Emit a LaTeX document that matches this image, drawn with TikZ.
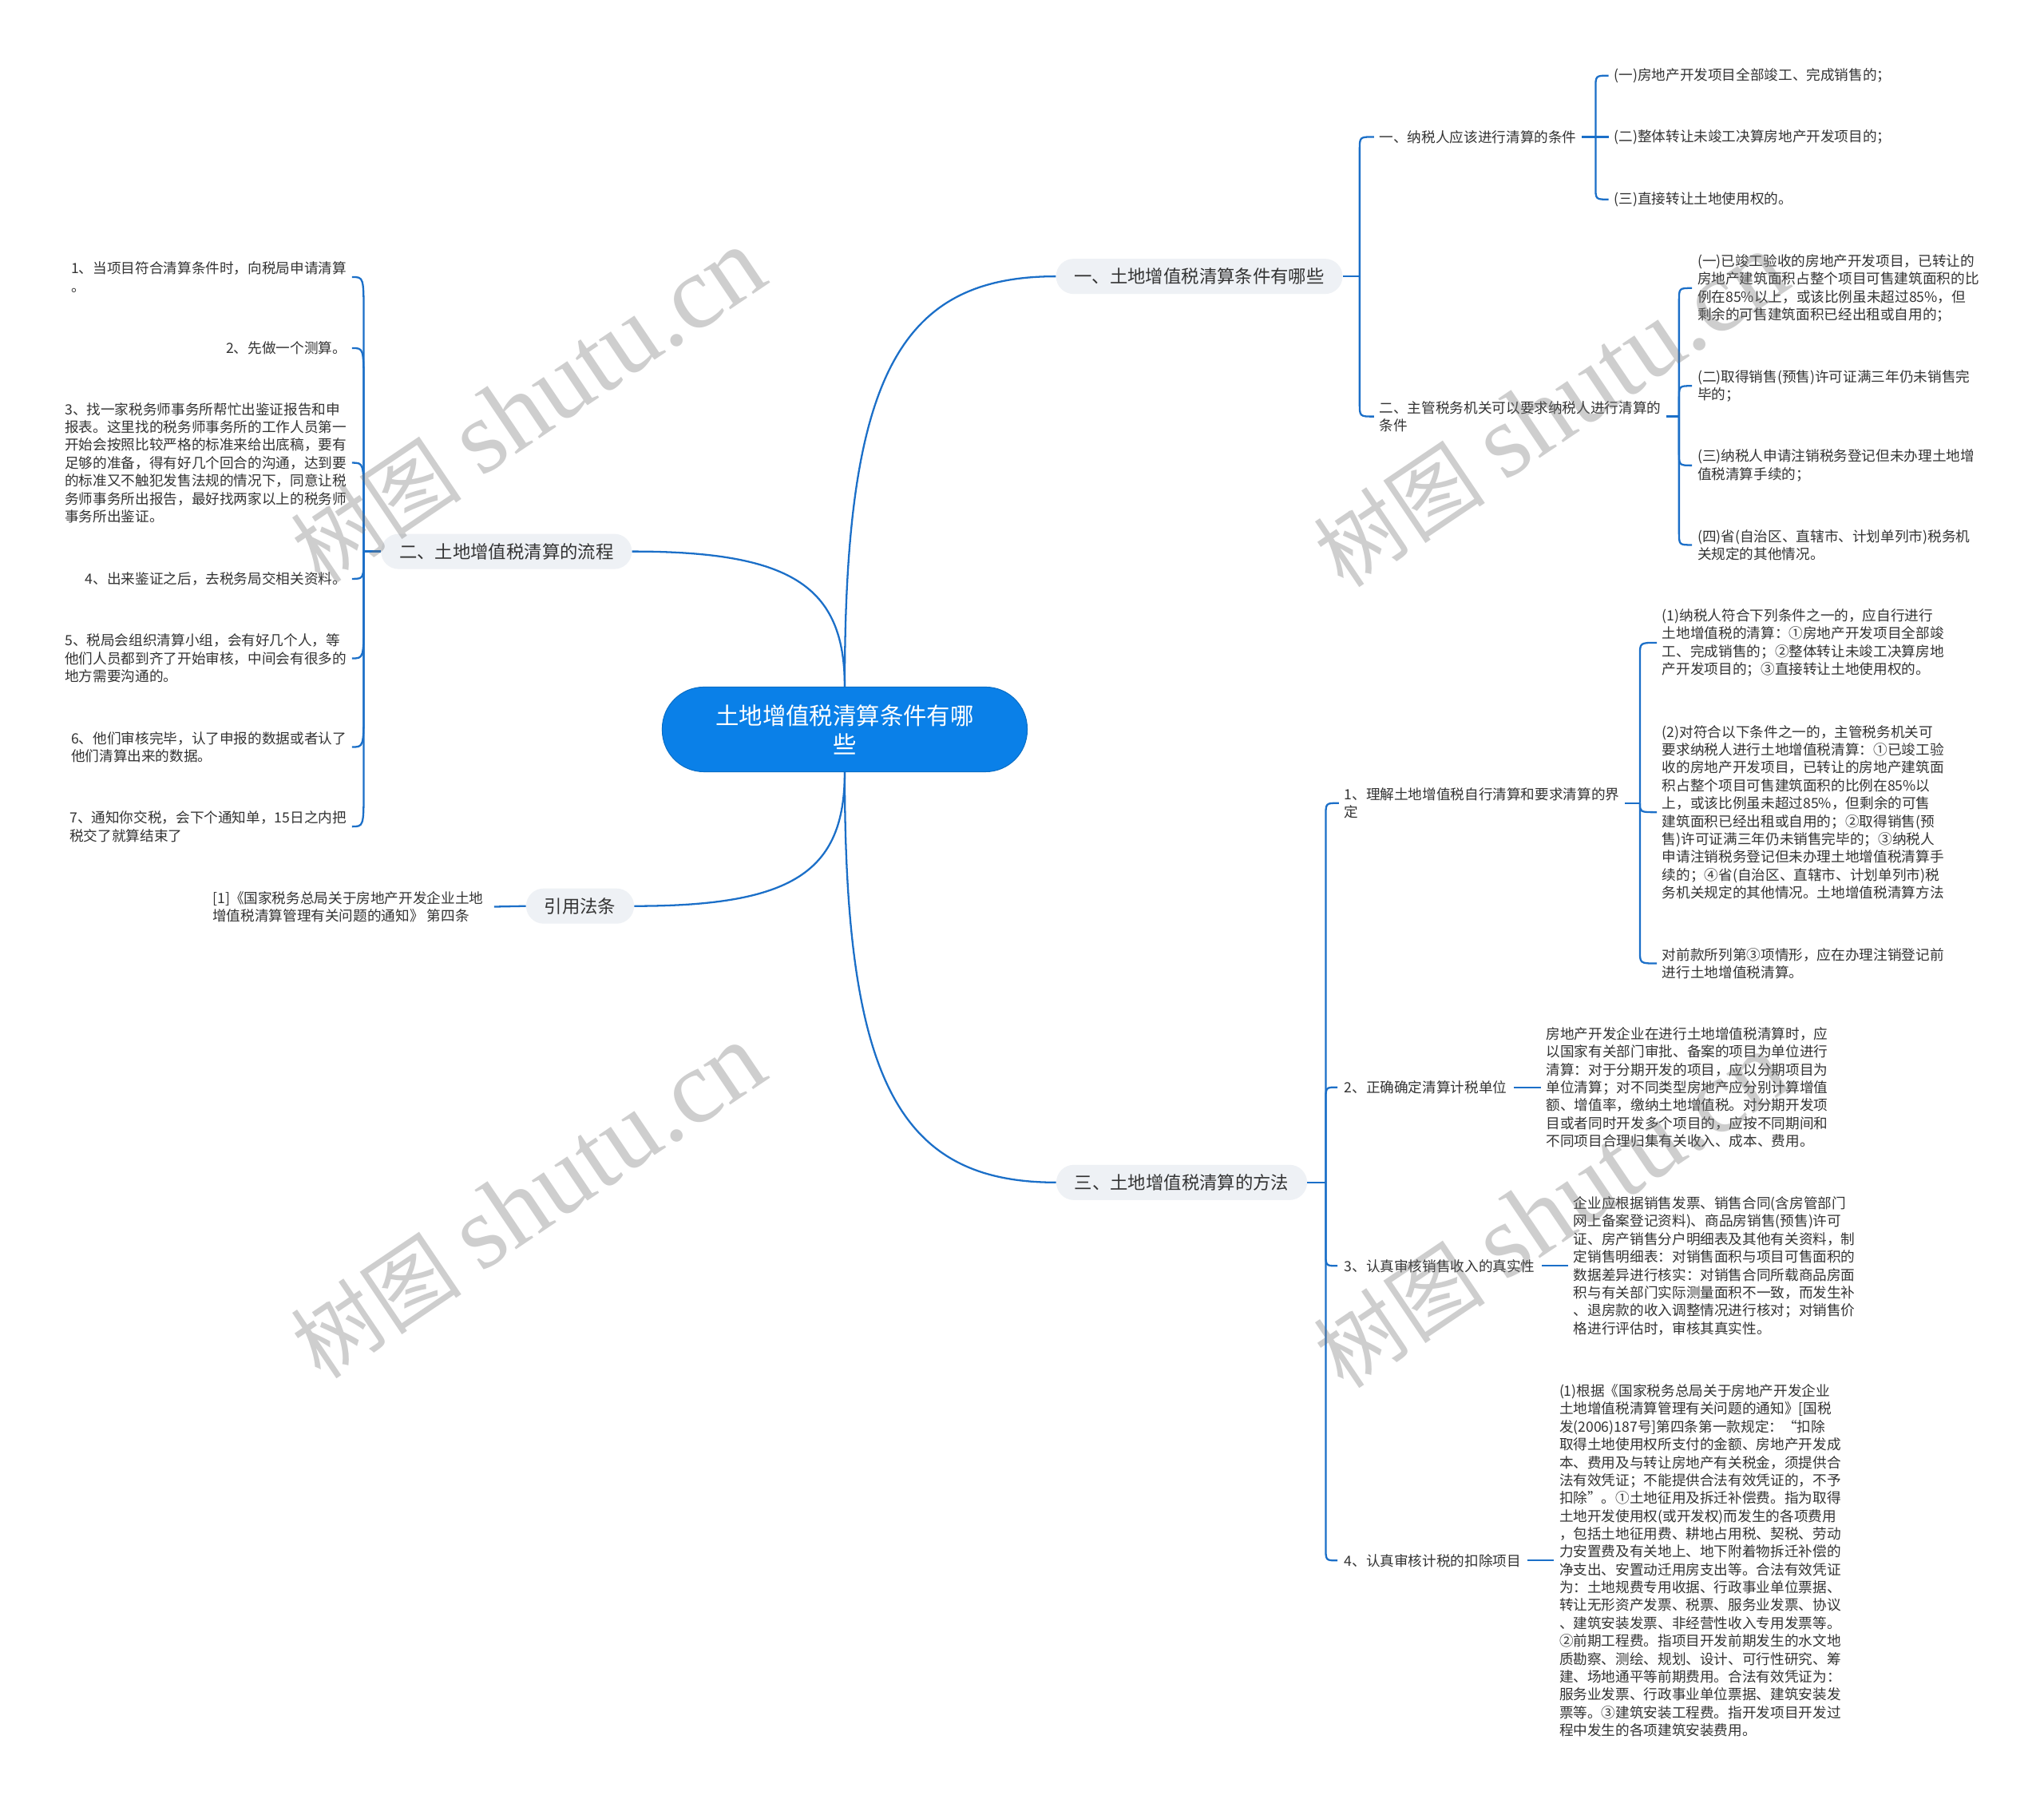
\documentclass[tikz,border=0pt]{standalone}
\usepackage{fontspec}
\setmainfont{Noto Sans CJK SC}
\newfontfamily\wmlat{Liberation Serif}
\newfontfamily\wmcjk{Noto Sans CJK SC}
\usetikzlibrary{calc}
\definecolor{lineblue}{HTML}{1B6FC8}
\definecolor{rootblue}{HTML}{0A80E8}
\definecolor{pillgray}{HTML}{EEF1F5}
\definecolor{txt}{HTML}{333333}
\tikzset{
  conn/.style={draw=lineblue, line width=1.4pt},
  root/.style={fill=rootblue, draw=rootblue!85!black, line width=0.6pt, rounded corners=32pt,
    minimum width=280pt, minimum height=65pt, text=white, align=center,
    font=\fontsize{18}{22}\selectfont},
  pill/.style={fill=pillgray, rounded corners=13.5pt, minimum height=27pt, inner xsep=14pt,
    text=txt, font=\fontsize{13.7}{16}\selectfont},
  leaf/.style={inner xsep=4pt, inner ysep=2pt, text=txt, align=left,
    font=\fontsize{10.8}{13.7}\selectfont},
  wm/.style={text=black!55, opacity=0.35, rotate=34, inner sep=0pt}
}
\newcommand\lnk[3]{\draw[conn] (#1) -- ($(#1 |- #2)+(0,#3)$) .. controls (#1 |- #2) .. (#2);}
\begin{document}
\begin{tikzpicture}[x=1pt, y=-1pt]
\fill[white] (0,0) rectangle (1568,1386);
\useasboundingbox (0,0) rectangle (1568,1386);

% root
\node[root] (root) at (648,559.5) {土地增值税清算条件有哪\\些};

% level 1
\node[pill] (A) at (920,212) {一、土地增值税清算条件有哪些};
\node[pill] (B) at (388.5,423) {二、土地增值税清算的流程};
\node[pill] (R) at (445,695) {引用法条};
\node[pill] (C) at (906.5,907) {三、土地增值税清算的方法};

\draw[conn] (root.north) .. controls +(0,-236) and +(-121,0) .. (A.west);
\draw[conn] (root.north) .. controls +(0,-78) and +(121,0) .. (B.east);
\draw[conn] (root.south) .. controls +(0,77) and +(121,0) .. (R.east);
\draw[conn] (root.south) .. controls +(0,236) and +(-121,0) .. (C.west);

% ---------- branch A ----------
\node[leaf, anchor=west] (a1) at (1054,105) {一、纳税人应该进行清算的条件};
\node[leaf, anchor=west] (a2) at (1054,319.5) {二、主管税务机关可以要求纳税人进行清算的\\条件};
\coordinate (jA) at (1043,212);
\draw[conn] (A.east) -- (jA);
\lnk{jA}{a1.west}{10}
\lnk{jA}{a2.west}{-10}

\node[leaf, anchor=west] (a11) at (1234,58) {(一)房地产开发项目全部竣工、完成销售的；};
\node[leaf, anchor=west] (a12) at (1234,105) {(二)整体转让未竣工决算房地产开发项目的；};
\node[leaf, anchor=west] (a13) at (1234,153) {(三)直接转让土地使用权的。};
\coordinate (ja1) at (1224,105);
\draw[conn] (a1.east) -- (ja1);
\lnk{ja1}{a11.west}{10}
\lnk{ja1}{a12.west}{0}
\lnk{ja1}{a13.west}{-10}

\node[leaf, anchor=west] (a21) at (1298,221) {(一)已竣工验收的房地产开发项目，已转让的\\房地产建筑面积占整个项目可售建筑面积的比\\例在85\%以上，或该比例虽未超过85\%，但\\剩余的可售建筑面积已经出租或自用的；};
\node[leaf, anchor=west] (a22) at (1298,296) {(二)取得销售(预售)许可证满三年仍未销售完\\毕的；};
\node[leaf, anchor=west] (a23) at (1298,357) {(三)纳税人申请注销税务登记但未办理土地增\\值税清算手续的；};
\node[leaf, anchor=west] (a24) at (1298,418) {(四)省(自治区、直辖市、计划单列市)税务机\\关规定的其他情况。};
\coordinate (ja2) at (1288,319.5);
\draw[conn] (a2.east) -- (ja2);
\lnk{ja2}{a21.west}{10}
\lnk{ja2}{a22.west}{10}
\lnk{ja2}{a23.west}{-10}
\lnk{ja2}{a24.west}{-10}

% ---------- branch B ----------
\node[leaf, anchor=east] (b1) at (270,212.5) {1、当项目符合清算条件时，向税局申请清算\\。};
\node[leaf, anchor=east] (b2) at (270,267) {2、先做一个测算。};
\node[leaf, anchor=east] (b3) at (270,355) {3、找一家税务师事务所帮忙出鉴证报告和申\\报表。这里找的税务师事务所的工作人员第一\\开始会按照比较严格的标准来给出底稿，要有\\足够的准备，得有好几个回合的沟通，达到要\\的标准又不触犯发售法规的情况下，同意让税\\务师事务所出报告，最好找两家以上的税务师\\事务所出鉴证。};
\node[leaf, anchor=east] (b4) at (270,444) {4、出来鉴证之后，去税务局交相关资料。};
\node[leaf, anchor=east] (b5) at (270,505) {5、税局会组织清算小组，会有好几个人，等\\他们人员都到齐了开始审核，中间会有很多的\\地方需要沟通的。};
\node[leaf, anchor=east] (b6) at (270,573) {6、他们审核完毕，认了申报的数据或者认了\\他们清算出来的数据。};
\node[leaf, anchor=east] (b7) at (270,634) {7、通知你交税，会下个通知单，15日之内把\\税交了就算结束了};
\coordinate (jB) at (279,423);
\draw[conn] (B.west) -- (jB);
\lnk{jB}{b1.east}{30}
\lnk{jB}{b2.east}{30}
\lnk{jB}{b3.east}{30}
\lnk{jB}{b4.east}{-18}
\lnk{jB}{b5.east}{-30}
\lnk{jB}{b6.east}{-30}
\lnk{jB}{b7.east}{-30}

% ---------- branch R ----------
\node[leaf, anchor=east, inner xsep=8pt] (r1) at (379,695.5) {[1]《国家税务总局关于房地产开发企业土地\\增值税清算管理有关问题的通知》 第四条};
\draw[conn] (R.west) -- (r1.east);

% ---------- branch C ----------
\node[leaf, anchor=west] (c1) at (1027,616) {1、理解土地增值税自行清算和要求清算的界\\定};
\node[leaf, anchor=west, inner xsep=5pt] (c2) at (1026,834) {2、正确确定清算计税单位};
\node[leaf, anchor=west, inner xsep=5pt] (c3) at (1026,971) {3、认真审核销售收入的真实性};
\node[leaf, anchor=west, inner xsep=5pt] (c4) at (1026,1197) {4、认真审核计税的扣除项目};
\coordinate (jC) at (1017,907);
\draw[conn] (C.east) -- (jC);
\lnk{jC}{c1.west}{10}
\lnk{jC}{c2.west}{10}
\lnk{jC}{c3.west}{-10}
\lnk{jC}{c4.west}{-10}

\node[leaf, anchor=west] (c11) at (1271,493) {(1)纳税人符合下列条件之一的，应自行进行\\土地增值税的清算：①房地产开发项目全部竣\\工、完成销售的；②整体转让未竣工决算房地\\产开发项目的；③直接转让土地使用权的。};
\node[leaf, anchor=west] (c12) at (1271,623) {(2)对符合以下条件之一的，主管税务机关可\\要求纳税人进行土地增值税清算：①已竣工验\\收的房地产开发项目，已转让的房地产建筑面\\积占整个项目可售建筑面积的比例在85\%以\\上，或该比例虽未超过85\%，但剩余的可售\\建筑面积已经出租或自用的；②取得销售(预\\售)许可证满三年仍未销售完毕的；③纳税人\\申请注销税务登记但未办理土地增值税清算手\\续的；④省(自治区、直辖市、计划单列市)税\\务机关规定的其他情况。土地增值税清算方法};
\node[leaf, anchor=west] (c13) at (1271,739) {对前款所列第③项情形，应在办理注销登记前\\进行土地增值税清算。};
\coordinate (jc1) at (1258,616);
\draw[conn] (c1.east) -- (jc1);
\lnk{jc1}{c11.west}{10}
\lnk{jc1}{c12.west}{-7}
\lnk{jc1}{c13.west}{-10}

\node[leaf, anchor=west] (c21) at (1182,834) {房地产开发企业在进行土地增值税清算时，应\\以国家有关部门审批、备案的项目为单位进行\\清算：对于分期开发的项目，应以分期项目为\\单位清算；对不同类型房地产应分别计算增值\\额、增值率，缴纳土地增值税。对分期开发项\\目或者同时开发多个项目的，应按不同期间和\\不同项目合理归集有关收入、成本、费用。};
\draw[conn] (c2.east) -- (c21.west);

\node[leaf, anchor=west] (c31) at (1203,971) {企业应根据销售发票、销售合同(含房管部门\\网上备案登记资料)、商品房销售(预售)许可\\证、房产销售分户明细表及其他有关资料，制\\定销售明细表：对销售面积与项目可售面积的\\数据差异进行核实：对销售合同所载商品房面\\积与有关部门实际测量面积不一致，而发生补\\、退房款的收入调整情况进行核对；对销售价\\格进行评估时，审核其真实性。};
\draw[conn] (c3.east) -- (c31.west);

\node[leaf, anchor=west] (c41) at (1192,1197) {(1)根据《国家税务总局关于房地产开发企业\\土地增值税清算管理有关问题的通知》[国税\\发(2006)187号]第四条第一款规定：“扣除\\取得土地使用权所支付的金额、房地产开发成\\本、费用及与转让房地产有关税金，须提供合\\法有效凭证；不能提供合法有效凭证的，不予\\扣除”。①土地征用及拆迁补偿费。指为取得\\土地开发使用权(或开发权)而发生的各项费用\\，包括土地征用费、耕地占用税、契税、劳动\\力安置费及有关地上、地下附着物拆迁补偿的\\净支出、安置动迁用房支出等。合法有效凭证\\为：土地规费专用收据、行政事业单位票据、\\转让无形资产发票、税票、服务业发票、协议\\、建筑安装发票、非经营性收入专用发票等。\\②前期工程费。指项目开发前期发生的水文地\\质勘察、测绘、规划、设计、可行性研究、筹\\建、场地通平等前期费用。合法有效凭证为：\\服务业发票、行政事业单位票据、建筑安装发\\票等。③建筑安装工程费。指开发项目开发过\\程中发生的各项建筑安装费用。};
\draw[conn] (c4.east) -- (c41.west);

% ---------- watermarks ----------
\foreach \wx/\wy/\wn in {405/312/w1, 1190/315/w2, 405/922/w3, 1190/929/w4}{
  \node[wm] (\wn) at (\wx,\wy) {{\wmcjk\fontsize{66}{66}\selectfont 树图}\hspace{16pt}{\wmlat\fontsize{80}{80}\selectfont shutu.cn}};
}
\end{tikzpicture}
\end{document}
